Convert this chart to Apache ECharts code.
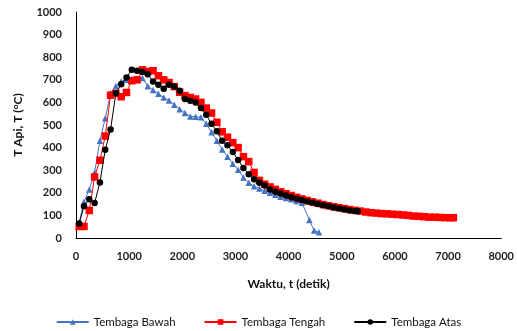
<!DOCTYPE html>
<html><head><meta charset="utf-8">
<script src="https://cdn.jsdelivr.net/npm/echarts@6/dist/echarts.min.js"></script>
<style>html,body{margin:0;padding:0;background:#fff}#c{width:517px;height:331px}</style>
</head><body><div id="c"></div>
<script>
const xTicks = [0,1000,2000,3000,4000,5000,6000,7000,8000];
const yTicks = [0,100,200,300,400,500,600,700,800,900,1000];

const bawahT = [60,150,250,350,450,550,650,750,850,950,1050,1150,1250,1350,1450,1550,1650,1750,1850,1950,2050,2150,2250,2350,2450,2550,2650,2750,2850,2950,3050,3150,3250,3350,3450,3550,3650,3750,3850,3950,4050,4150,4250,4390,4480,4570];
const bawahV = [70,160,215,290,430,530,640,673,693,700,704,700,708,672,655,638,622,608,590,570,553,538,537,534,505,468,430,392,360,328,302,268,244,229,219,209,200,191,183,177,171,164,156,80,33,25];

const tengahT = [60,150,250,350,450,550,650,750,850,950,1050,1150,1250,1350,1450,1550,1650,1750,1850,1950,2050,2150,2250,2350,2450,2550,2650,2750,2850,2950,3050,3150,3250,3350,3450,3550,3650,3750,3850,3950,4050,4150,4250,4350,4450,4550,4650,4750,4850,4950,5050,5150,5250,5350,5450,5550,5650,5750,5850,5950,6050,6150,6250,6350,6450,6550,6650,6750,6850,6950,7050,7100];
const tengahV = [51,51,122,270,344,451,632,640,625,644,696,700,744,737,740,718,700,688,670,645,630,622,615,600,575,553,512,470,446,422,400,360,338,290,255,238,226,215,205,196,188,180,173,166,160,154,148,143,138,134,130,126,122,119,115,112,110,108,107,105,104,102,100,97,96,94,92,92,91,90,90,90];

const atasT = [60,150,250,350,450,550,650,750,850,950,1050,1150,1250,1350,1450,1550,1650,1750,1850,1950,2050,2150,2250,2350,2450,2550,2650,2750,2850,2950,3050,3150,3250,3350,3450,3550,3650,3750,3850,3950,4050,4150,4250,4350,4450,4550,4650,4750,4850,4950,5050,5150,5250,5300];
const atasV = [64,140,172,155,246,390,480,640,680,710,744,740,735,725,693,678,660,678,670,651,615,607,600,575,545,505,472,430,410,380,345,310,282,260,245,232,215,205,197,188,180,174,168,162,156,150,145,140,135,130,126,122,119,118];

const names = ['Tembaga Bawah','Tembaga Tengah','Tembaga Atas'];
const colors = ['#4472C4','#FF0000','#000000'];
const zip = (a,b)=>a.map((t,i)=>[t,b[i]]);

const chart = echarts.init(document.getElementById('c'));
const font = 'Lato, "Open Sans", sans-serif';
chart.setOption({
  animation:false,
  textStyle:{fontFamily:font},
  grid:{left:76,right:15,top:12,bottom:93},
  legend:{
    bottom:-2,left:'center',itemGap:28,itemWidth:32,itemHeight:7,
    textStyle:{fontFamily:font,fontSize:11.5,color:'#111'},
    data:names.map((n,i)=>({name:n}))
  },
  xAxis:{
    type:'value',min:0,max:8000,interval:1000,
    name:'Waktu, t (detik)',nameLocation:'middle',nameGap:40,
    nameTextStyle:{fontFamily:font,fontWeight:'bold',fontSize:12,color:'#111'},
    axisLine:{lineStyle:{color:'#000',width:1}},
    axisTick:{show:false},splitLine:{show:false},
    axisLabel:{margin:13,fontFamily:font,fontWeight:'bold',fontSize:11,color:'#222',
      formatter:v=>xTicks.includes(v)?String(v):''}
  },
  yAxis:{
    type:'value',min:0,max:1000,interval:100,
    name:'T Api, T (°C)',nameLocation:'middle',nameGap:52,nameRotate:90,
    nameTextStyle:{fontFamily:font,fontWeight:'bold',fontSize:12,color:'#111'},
    axisLine:{show:true,lineStyle:{color:'#000',width:1}},
    axisTick:{show:false},splitLine:{show:false},
    axisLabel:{margin:14,fontFamily:font,fontWeight:'bold',fontSize:11,color:'#222',
      formatter:v=>yTicks.includes(v)?String(v):''}
  },
  series:[
    {name:names[0],type:'line',data:zip(bawahT,bawahV),symbol:'triangle',symbolSize:6.5,
     lineStyle:{color:colors[0],width:1},itemStyle:{color:colors[0]},z:2},
    {name:names[1],type:'line',data:zip(tengahT,tengahV),symbol:'rect',symbolSize:7.5,
     lineStyle:{color:colors[1],width:1},itemStyle:{color:colors[1]},z:3},
    {name:names[2],type:'line',data:zip(atasT,atasV),symbol:'circle',symbolSize:6.5,
     lineStyle:{color:colors[2],width:1},itemStyle:{color:colors[2]},z:4}
  ]
});
</script></body></html>
